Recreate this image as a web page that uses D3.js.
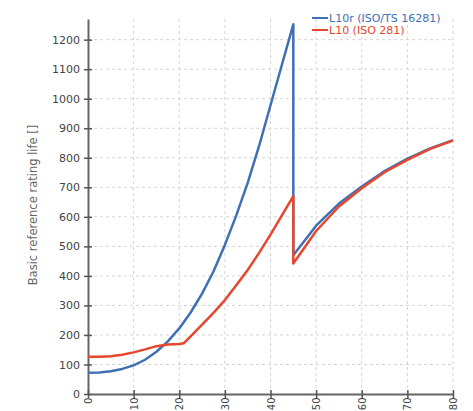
<!DOCTYPE html>
<html>
<head>
<meta charset="utf-8">
<script src="https://cdn.jsdelivr.net/npm/d3@7"></script>
<style>
  body { margin: 0; background: #fff; }
  svg { display: block; font-family: "DejaVu Sans", sans-serif; }
</style>
</head>
<body>
<script>
// values
const l10rX = [0, 2.5, 5, 7.5, 10, 12.5, 15, 17.5, 20, 22.5, 25, 27.5, 30, 32.5, 35, 37.5, 40, 42.5, 45,
  45, 50, 55, 60, 65, 70, 75, 80]
const l10rY = [72, 73, 77, 85, 97, 116, 143, 178, 222, 276, 340, 415, 505, 605, 715, 840, 978, 1115, 1252,
  470, 570, 645, 703, 755, 797, 832, 860]

const l10X = [0, 2.5, 5, 7.5, 10, 12.5, 15, 17.5, 20, 21, 22.5, 25, 27.5, 30, 32.5, 35, 37.5, 40, 42.5, 45,
  45, 50, 55, 60, 65, 70, 75, 80]
const l10Y = [126, 126, 128, 133, 141, 151, 162, 168, 169, 172, 195, 235, 275, 318, 368, 420, 478, 540, 605, 670,
  442, 552, 635, 697, 751, 793, 830, 858]

const xTicks = [0, 10, 20, 30, 40, 50, 60, 70, 80]
const yTicks = [0, 100, 200, 300, 400, 500, 600, 700, 800, 900, 1000, 1100, 1200]
const seriesNames = ['L10r (ISO/TS 16281)', 'L10 (ISO 281)']
const yTitle = 'Basic reference rating life []'

const WIDTH = 473
const HEIGHT = 411
const BLUE = '#4070b4'
const RED = '#e6472e'

const svg = d3.select('body').append('svg')
  .attr('width', WIDTH)
  .attr('height', HEIGHT)

const x = d3.scaleLinear().domain([0, 80]).range([88, 453])
const y = d3.scaleLinear().domain([0, 1270]).range([394, 19])

// grid
svg.append('g')
  .selectAll('line')
  .data(xTicks.slice(1))
  .join('line')
  .attr('x1', d => x(d)).attr('x2', d => x(d))
  .attr('y1', y(1270)).attr('y2', y(0))
  .attr('stroke', '#d4d4d4')
  .attr('stroke-dasharray', '3,3')

svg.append('g')
  .selectAll('line')
  .data(yTicks.slice(1))
  .join('line')
  .attr('x1', x(0)).attr('x2', x(80))
  .attr('y1', d => y(d)).attr('y2', d => y(d))
  .attr('stroke', '#d4d4d4')
  .attr('stroke-dasharray', '3,3')

// axes
const leftAxis = svg.append('g')
  .attr('transform', `translate(${x(0)}, 0)`)
  .call(d3.axisLeft(y).tickValues(yTicks).tickFormat(d3.format('d'))
    .tickSize(4).tickPadding(4).tickSizeOuter(0))
leftAxis.select('.domain').attr('stroke', '#666').attr('stroke-width', 2)
leftAxis.selectAll('.tick line').attr('stroke', '#555').attr('x2', 4).attr('x1', -4).attr('stroke-width', 1.5)
leftAxis.selectAll('.tick text')
  .attr('fill', '#444')
  .style('font-size', '11px')
  .style('font-family', '"DejaVu Sans", sans-serif')

const bottomAxis = svg.append('g')
  .attr('transform', `translate(0, ${y(0)})`)
  .call(d3.axisBottom(x).tickValues(xTicks).tickFormat(d3.format('d')).tickSize(4).tickSizeOuter(0))
bottomAxis.select('.domain').attr('stroke', '#666').attr('stroke-width', 2)
bottomAxis.selectAll('.tick line').attr('stroke', '#555').attr('y1', -4).attr('y2', 4).attr('stroke-width', 1.5)
bottomAxis.selectAll('.tick text')
  .attr('fill', '#444')
  .style('font-size', '10px')
  .style('font-family', '"DejaVu Sans", sans-serif')
  .attr('text-anchor', 'end')
  .attr('transform', 'rotate(-90)')
  .attr('x', -3.5)
  .attr('y', 0)
  .attr('dy', '0.35em')

// y title
svg.append('text')
  .attr('transform', `translate(33, ${205}) rotate(-90)`)
  .attr('text-anchor', 'middle')
  .attr('dy', '0.35em')
  .attr('fill', '#666')
  .style('font-size', '11.5px')
  .style('font-family', '"DejaVu Sans", sans-serif')
  .text(yTitle)

// lines
const line = d3.line()
  .x(d => x(d[0]))
  .y(d => y(d[1]))

svg.append('path')
  .datum(d3.zip(l10rX, l10rY))
  .attr('fill', 'none')
  .attr('stroke', BLUE)
  .attr('stroke-width', 2.5)
  .attr('stroke-linejoin', 'round')
  .attr('d', line)

svg.append('path')
  .datum(d3.zip(l10X, l10Y))
  .attr('fill', 'none')
  .attr('stroke', RED)
  .attr('stroke-width', 2.5)
  .attr('stroke-linejoin', 'round')
  .attr('d', line)

// legend
const legend = svg.append('g')
  .selectAll('g')
  .data(seriesNames)
  .join('g')
  .attr('transform', (d, i) => `translate(312, ${18 + i * 12})`)

legend.append('line')
  .attr('x1', 0).attr('x2', 16)
  .attr('stroke', (d, i) => i ? RED : BLUE)
  .attr('stroke-width', 2)

legend.append('text')
  .attr('x', 17)
  .attr('dy', '0.35em')
  .attr('fill', (d, i) => i ? RED : BLUE)
  .style('font-size', '11px')
  .text(d => d)
</script>
</body>
</html>
